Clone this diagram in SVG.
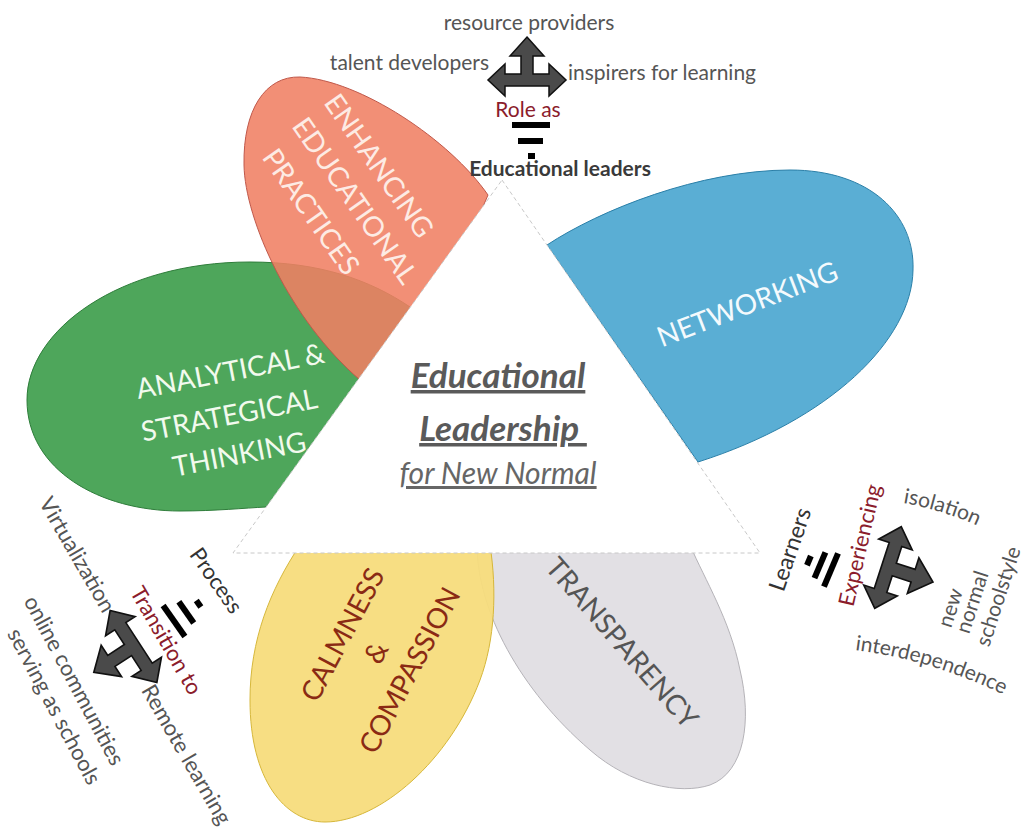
<svg xmlns="http://www.w3.org/2000/svg" width="1029" height="834" viewBox="0 0 1029 834">
<defs>
<style>
text{font-family:Lato,"Liberation Sans",sans-serif;}
.pl{font-size:28px;font-weight:400;text-anchor:middle;dominant-baseline:central;}
.nt{font-size:21px;fill:#555;}
.bl{font-size:22px;}
.rd{fill:#8b1c2c;}
.dk{fill:#333;}
.c{text-anchor:middle;dominant-baseline:central;}
.bar{fill:#000;}
</style>
<path id="tarrow" d="M0,-43 L17,-24 L6,-24 L6,-6 L22,-6 L22,-16 L39,0 L22,16 L22,6 L-22,6 L-22,16 L-39,0 L-22,-16 L-22,-6 L-6,-6 L-6,-24 L-17,-24 Z" fill="#4a4a4a" stroke="#111" stroke-width="1.5"/>
<path id="arcIso" d="M903,503 A300,300 0 0,1 990,532"/>
<path id="arcInter" d="M855,650 A480,480 0 0,1 1025,706"/>
</defs>
<rect width="1029" height="834" fill="#fff"/>

<g id="petal-transparency">
<path d="M477,545 C477,610 520,690 590,750 C630,785 680,795 710,785 C745,772 752,720 740,670 C730,620 705,580 690,545 Z" fill="#e2e0e4" stroke="#b5b3b8" stroke-width="1"/>
<text class="pl" fill="#555" transform="translate(623,642) rotate(49)">TRANSPARENCY</text>
</g>

<g id="petal-calmness">
<path d="M300,545 C270,590 250,640 250,700 C250,780 285,822 325,822 C380,822 450,760 480,680 C495,640 497,590 490,545 Z" fill="#f7dc7c" fill-opacity="0.95" stroke="#d6b73a" stroke-width="1"/>
<g transform="translate(375,652) rotate(-62)" fill="#8a2a14">
<text class="pl" x="0" y="-38">CALMNESS</text>
<text class="pl" x="0" y="0">&amp;</text>
<text class="pl" x="0" y="38">COMPASSION</text>
</g>
</g>

<g id="petal-analytical">
<path d="M410,307 C370,280 320,262 250,262 C120,262 27,330 27,400 C27,470 100,511 180,511 C215,511 245,508 266,507 L340,420 Z" fill="#4ea65b" stroke="#2e7d3a" stroke-width="1"/>
<text class="pl" fill="#f2faee" transform="translate(230,370) rotate(-11)">ANALYTICAL &amp;</text>
<text class="pl" fill="#f2faee" transform="translate(229,414) rotate(-11)">STRATEGICAL</text>
<text class="pl" fill="#f2faee" transform="translate(239,453) rotate(-11)">THINKING</text>
</g>

<g id="petal-enhancing">
<path d="M488,195 C450,140 360,80 300,77 C265,76 243,110 244,165 C245,220 290,320 360,380 L460,260 Z" fill="#f07f63" fill-opacity="0.88" stroke="#c0584a" stroke-width="1"/>
<text class="pl" fill="#fdebe4" transform="translate(380,165) rotate(55)">ENHANCING</text>
<text class="pl" fill="#fdebe4" transform="translate(356,200) rotate(55)">EDUCATIONAL</text>
<text class="pl" fill="#fdebe4" transform="translate(312,211) rotate(55)">PRACTICES</text>
</g>

<g id="petal-networking">
<path d="M547,245 C600,210 700,170 790,170 C870,170 915,215 913,270 C912,340 830,420 698,462 L620,350 Z" fill="#5aaed4" stroke="#2a7fa8" stroke-width="1"/>
<text class="pl" fill="#f4fafd" transform="translate(747,303) rotate(-21)">NETWORKING</text>
</g>

<g id="center">
<polygon points="502,180 760,553 233,553" fill="#fff" stroke="#c8c8c8" stroke-width="1" stroke-dasharray="4 3"/>
<text x="498" y="388" text-anchor="middle" font-size="35" font-style="italic" font-weight="bold" fill="#5a5a5a" text-decoration="underline">Educational</text>
<text x="503" y="441" text-anchor="middle" font-size="35" font-style="italic" font-weight="bold" fill="#5a5a5a" text-decoration="underline">Leadership&#160;</text>
<text x="498" y="484" text-anchor="middle" font-size="30" font-style="italic" fill="#666" text-decoration="underline">for New Normal</text>
</g>

<g id="arrows">
<use href="#tarrow" transform="translate(527,80)"/>
<use href="#tarrow" transform="translate(133.5,646.5) rotate(237) scale(1.1)"/>
<use href="#tarrow" transform="translate(888,567.5) rotate(108) scale(1.1)"/>
</g>

<g id="role-top">
<text class="nt" x="529" y="30" text-anchor="middle">resource providers</text>
<text class="nt" x="489" y="70" text-anchor="end">talent developers</text>
<text class="nt" x="568" y="80">inspirers for learning</text>
<text class="nt rd" x="528" y="117" text-anchor="middle" font-size="19">Role as</text>
<rect class="bar" x="512" y="122" width="38" height="6"/>
<rect class="bar" x="518" y="138" width="25" height="6"/>
<rect class="bar" x="528" y="153" width="7" height="6"/>
<text class="nt" x="560" y="176" text-anchor="middle" font-size="20" font-weight="bold" style="fill:#3a3a3a">Educational leaders</text>
</g>

<g id="process-left">
<text class="nt bl c dk" transform="translate(217,580) rotate(55)">Process</text>
<text class="nt bl c rd" transform="translate(167,640) rotate(60)">Transition to</text>
<g transform="translate(174,621) rotate(-125)">
<rect class="bar" x="-19" y="-3" width="38" height="6"/>
<rect class="bar" x="-13" y="12" width="26" height="6"/>
<rect class="bar" x="-4" y="27" width="8" height="6"/>
</g>
<text class="nt bl c" transform="translate(78,554) rotate(60)">Virtualization</text>
<text class="nt bl c" transform="translate(75,680) rotate(62)">online communities</text>
<text class="nt bl c" transform="translate(55,706) rotate(62)">serving as schools</text>
<text class="nt bl" dominant-baseline="central" transform="translate(148,686) rotate(60)">Remote learning</text>
</g>

<g id="learners-right">
<text class="nt c dk" style="font-size:23px" transform="translate(789,549) rotate(-71)">Learners</text>
<g transform="translate(831,570) rotate(113)">
<rect class="bar" x="-18" y="-3" width="36" height="6"/>
<rect class="bar" x="-14" y="9" width="28" height="6"/>
<rect class="bar" x="-5" y="21" width="10" height="6"/>
</g>
<text class="nt c rd" style="font-size:22px" transform="translate(859,545) rotate(-77)">Experiencing</text>
<text class="nt"><textPath href="#arcIso">isolation</textPath></text>
<text class="nt"><textPath href="#arcInter">interdependence</textPath></text>
<text class="nt" dominant-baseline="central" transform="translate(943,626) rotate(-72)">new</text>
<text class="nt" dominant-baseline="central" transform="translate(961,632) rotate(-72)">normal</text>
<text class="nt" dominant-baseline="central" transform="translate(981,645) rotate(-72)">schoolstyle</text>
</g>
</svg>
